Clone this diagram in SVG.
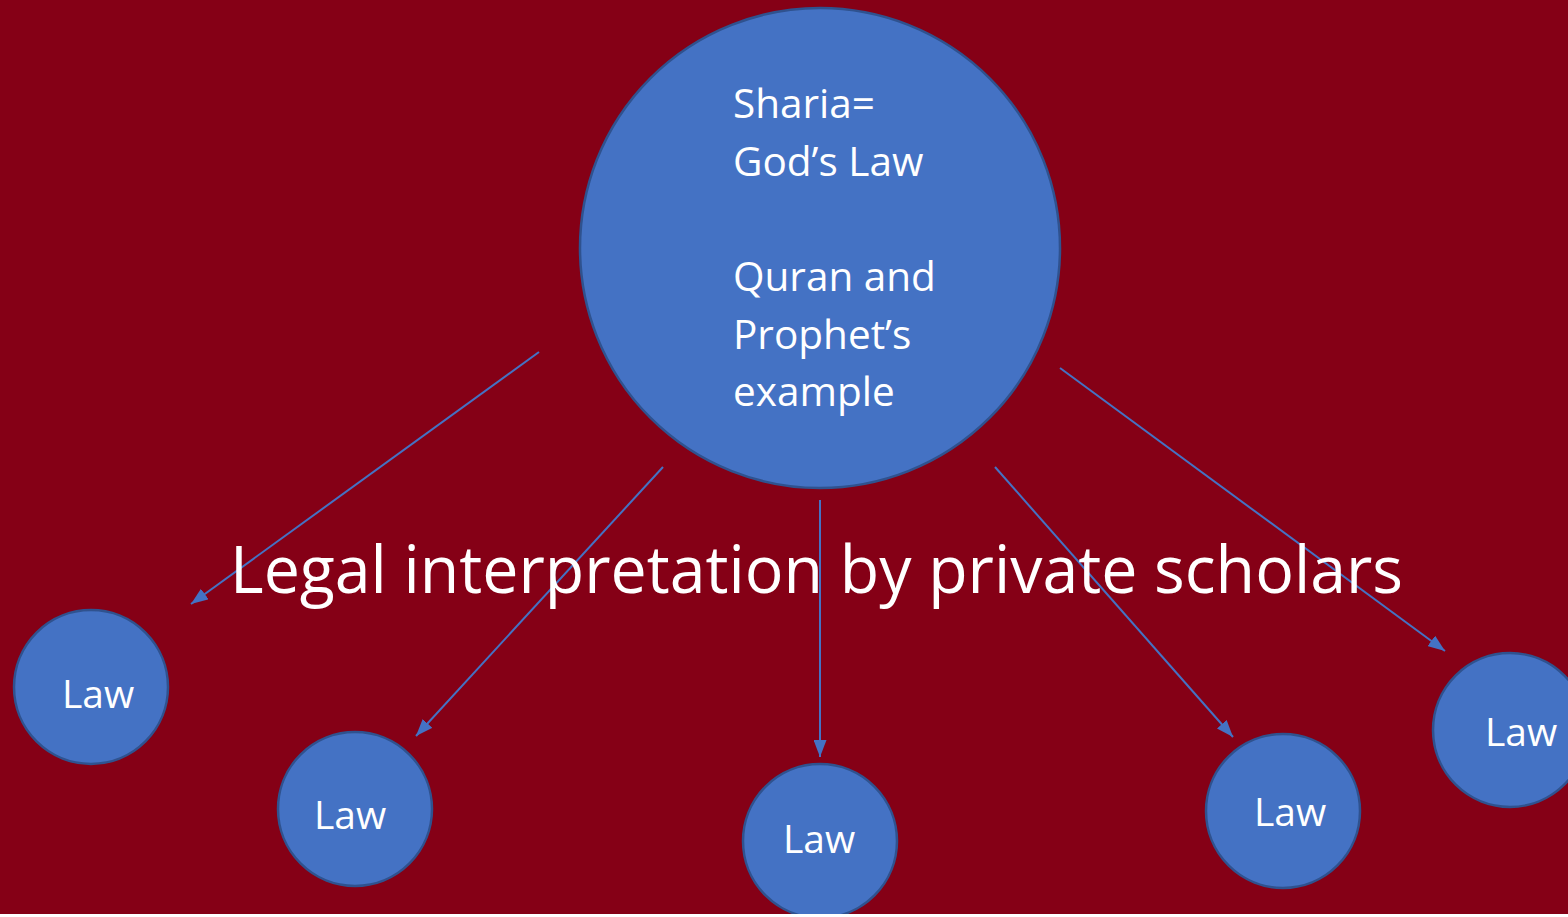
<svg xmlns="http://www.w3.org/2000/svg" width="1568" height="917" viewBox="0 0 1568 917">
<style>
.node{fill:#4472C4;stroke:#2F528F;stroke-width:2.5}
.t{font-family:"Open Sans","Noto Sans",sans-serif;fill:#ffffff}
.law{font-size:39px;text-anchor:middle}
.main{font-size:40.5px}
.conn line{stroke:#4472C4;stroke-width:2}
</style>
<defs>
<marker id="ah" viewBox="0 0 10 10" refX="10" refY="5" markerWidth="17" markerHeight="13" markerUnits="userSpaceOnUse" orient="auto" preserveAspectRatio="none">
<path d="M0,0 L10,5 L0,10 z" fill="#4472C4"/>
</marker>
<clipPath id="page"><rect x="0" y="0" width="1568" height="914"/></clipPath>
</defs>
<rect x="0" y="0" width="1568" height="917" fill="#ffffff"/>
<g clip-path="url(#page)">
<rect x="0" y="0" width="1568" height="914" fill="#850016"/>
<g id="sharia">
<circle class="node" cx="820" cy="248" r="240"/>
<text class="t main" x="733" y="118">Sharia=</text>
<text class="t main" x="733" y="176">God’s Law</text>
<text class="t main" x="733" y="291">Quran and</text>
<text class="t main" x="733" y="349">Prophet’s</text>
<text class="t main" x="733" y="406">example</text>
</g>
<g id="law1"><circle class="node" cx="91" cy="687" r="77"/><text class="t law" x="98" y="708">Law</text></g>
<g id="law2"><circle class="node" cx="355" cy="809" r="77"/><text class="t law" x="350" y="829">Law</text></g>
<g id="law3"><circle class="node" cx="820" cy="841" r="77"/><text class="t law" x="819" y="853">Law</text></g>
<g id="law4"><circle class="node" cx="1283" cy="811" r="77"/><text class="t law" x="1290" y="826">Law</text></g>
<g id="law5"><circle class="node" cx="1510" cy="730" r="77"/><text class="t law" x="1521" y="746">Law</text></g>
<g id="connectors" class="conn">
<line x1="539" y1="352" x2="191" y2="604" marker-end="url(#ah)"/>
<line x1="663" y1="467" x2="416" y2="736" marker-end="url(#ah)"/>
<line x1="820" y1="500" x2="820" y2="757" marker-end="url(#ah)"/>
<line x1="995" y1="467" x2="1233" y2="737" marker-end="url(#ah)"/>
<line x1="1060" y1="368" x2="1445" y2="651" marker-end="url(#ah)"/>
</g>
<text class="t" x="230" y="593" font-size="65" textLength="1173" lengthAdjust="spacingAndGlyphs">Legal interpretation by private scholars</text>
</g>
</svg>
